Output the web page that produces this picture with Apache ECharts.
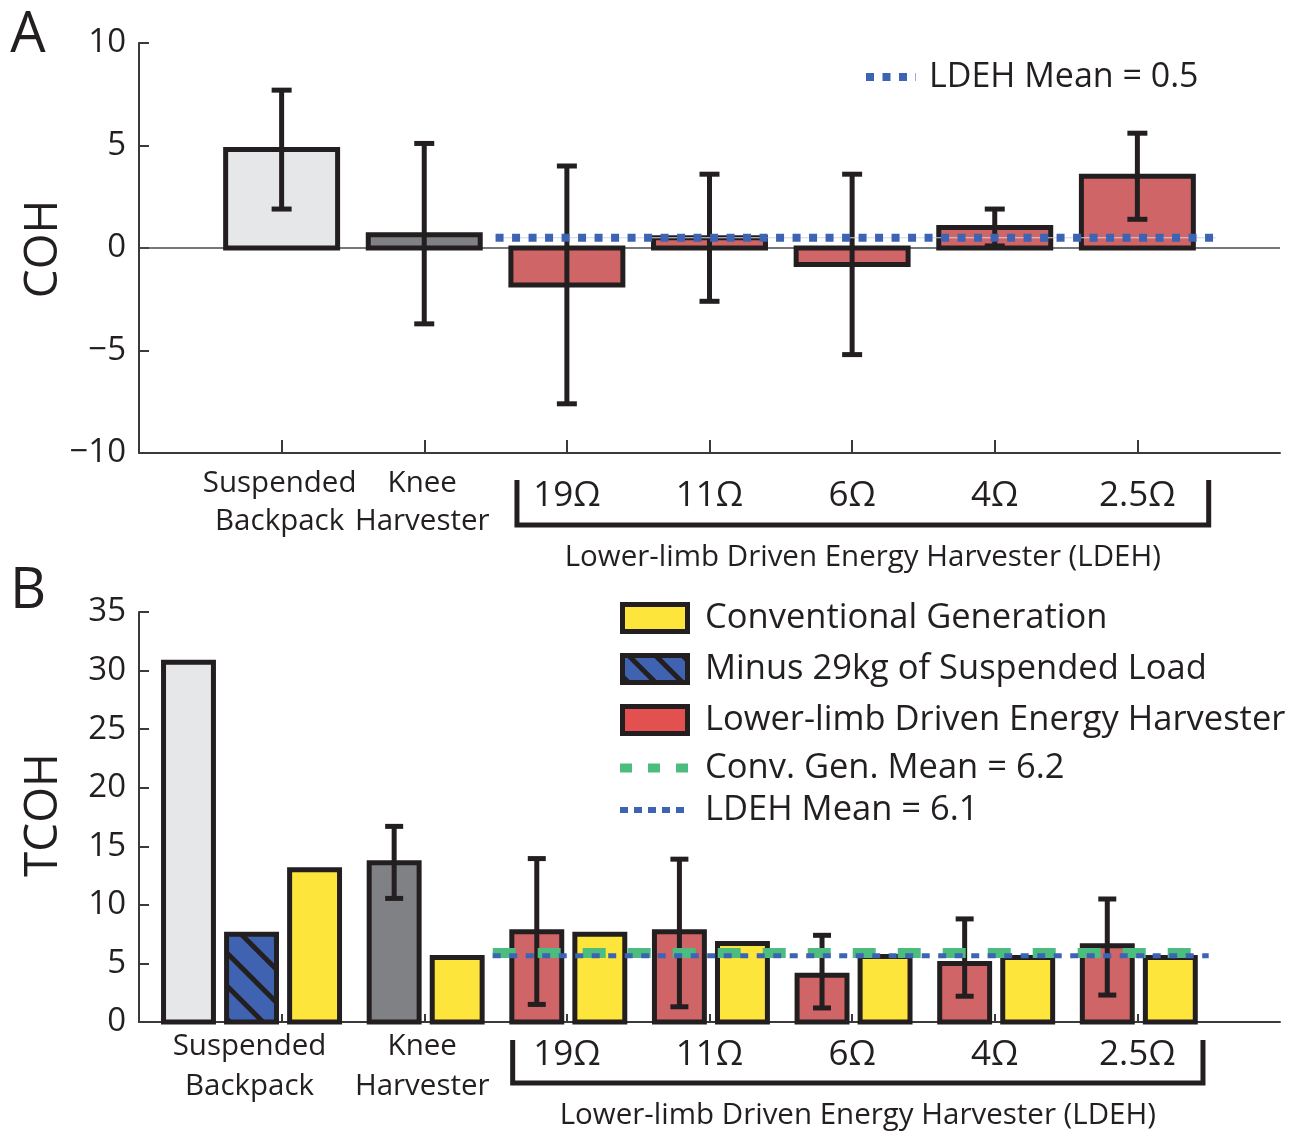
<!DOCTYPE html>
<html><head><meta charset="utf-8">
<script src="https://cdn.jsdelivr.net/npm/echarts@6/dist/echarts.min.js"></script>
<style>html,body{margin:0;padding:0;background:#fff}#c{width:1293px;height:1133px}</style>
</head><body><div id="c"></div>
<script>
// ---------------- DATA ----------------
const groupLabels = ['Suspended\nBackpack', 'Knee\nHarvester'];
const ldehLabels = ['19Ω', '11Ω', '6Ω', '4Ω', '2.5Ω'];
const ldehTitle = 'Lower-limb Driven Energy Harvester (LDEH)';

// Panel A: COH
const yTicksA = [-10, -5, 0, 5, 10];
const cohValues = [4.8, 0.65, -1.8, 0.5, -0.8, 1.0, 3.5];
const cohErrLow = [1.9, -3.7, -7.6, -2.6, -5.2, 0.1, 1.4];
const cohErrHigh = [7.7, 5.1, 4.0, 3.6, 3.6, 1.9, 5.6];
const cohLdehMean = 0.5;

// Panel B: TCOH
const yTicksB = [0, 5, 10, 15, 20, 25, 30, 35];
const tcohBaseline = [30.7, 13.6];        // Suspended Backpack, Knee Harvester
const tcohKneeErr = [10.55, 16.7];
const tcohMinus29kg = [7.5];               // Suspended Backpack only
const tcohConventional = [13.0, 5.5, 7.5, 6.7, 5.6, 5.5, 5.5];
const tcohLdeh = [7.7, 7.7, 4.0, 5.0, 6.5];
const tcohLdehErrLow = [1.5, 1.3, 1.2, 2.2, 2.3];
const tcohLdehErrHigh = [13.95, 13.9, 7.4, 8.8, 10.5];
const tcohConvGenMeanDrawn = 5.9;
const tcohLdehMeanDrawn = 5.65;

const legendA = 'LDEH Mean = 0.5';
const legendB = ['Conventional Generation', 'Minus 29kg of Suspended Load', 'Lower-limb Driven Energy Harvester', 'Conv. Gen. Mean = 6.2', 'LDEH Mean = 6.1'];

// ---------------- STYLE ----------------
const INK = '#231f20';
const C_LIGHT = '#e6e7e8', C_DARK = '#808184', C_RED = '#cf6566', C_RED_LEG = '#e35050',
      C_YEL = '#fde53b', C_BLUE = '#3f63b0', C_GREEN = '#4dbd7f', C_DOT = '#3d63b3';
const FONT = '"Open Sans", "Liberation Sans", sans-serif';

function hatch(s, lw) {
  const c = document.createElement('canvas'); c.width = s; c.height = s;
  const g = c.getContext('2d');
  g.fillStyle = C_BLUE; g.fillRect(0, 0, s, s);
  g.strokeStyle = INK; g.lineWidth = lw; g.beginPath();
  for (const k of [-s, 0, s]) { g.moveTo(-s, -s + k); g.lineTo(2 * s, 2 * s + k); }
  g.stroke();
  return { image: c, repeat: 'repeat' };
}
const hatchBar = hatch(33, 5);
const hatchLeg = hatch(27, 5);

// layout (in category units)
const A_BAR_W = 0.785;
const B_BAR_W = 0.35;
const B_PITCH = 0.442;
const B_SHIFT = 0.01;

function barRender(w, fill, lw) {
  return function (params, api) {
    const x = api.value(0), y = api.value(1);
    const p1 = api.coord([x - w / 2, y]);
    const p2 = api.coord([x + w / 2, 0]);
    return { type: 'rect',
      shape: { x: p1[0], y: Math.min(p1[1], p2[1]), width: p2[0] - p1[0], height: Math.abs(p2[1] - p1[1]) },
      style: { fill: typeof fill === 'function' ? fill(params.dataIndex) : fill, stroke: INK, lineWidth: lw } };
  };
}
function errRender(cap, lw) {
  return function (params, api) {
    const x = api.value(0);
    const lo = api.coord([x, api.value(1)]), hi = api.coord([x, api.value(2)]);
    const st = { stroke: INK, lineWidth: lw };
    return { type: 'group', children: [
      { type: 'line', shape: { x1: lo[0], y1: lo[1], x2: hi[0], y2: hi[1] }, style: st },
      { type: 'line', shape: { x1: lo[0] - cap / 2, y1: lo[1], x2: lo[0] + cap / 2, y2: lo[1] }, style: st },
      { type: 'line', shape: { x1: hi[0] - cap / 2, y1: hi[1], x2: hi[0] + cap / 2, y2: hi[1] }, style: st }
    ] };
  };
}

// Panel A data
const aColors = [C_LIGHT, C_DARK, C_RED, C_RED, C_RED, C_RED, C_RED];
const aBars = cohValues.map((v, i) => [i + 1, v]);
const aErr = cohValues.map((v, i) => [i + 1, cohErrLow[i], cohErrHigh[i]]);

// Panel B data
const bBaseBars = [[1 - 1.5 * B_PITCH + B_SHIFT, tcohBaseline[0]], [2 - 0.5 * B_PITCH + B_SHIFT, tcohBaseline[1]]];
const bMinusBars = [[1 - 0.5 * B_PITCH + B_SHIFT, tcohMinus29kg[0]]];
const bConvBars = tcohConventional.map((v, i) => [i + 1 + 0.5 * B_PITCH + B_SHIFT, v]);
const bLdehBars = tcohLdeh.map((v, i) => [i + 3 - 0.5 * B_PITCH + B_SHIFT, v]);
const bErr = [[2 - 0.5 * B_PITCH + B_SHIFT, tcohKneeErr[0], tcohKneeErr[1]]]
  .concat(tcohLdeh.map((v, i) => [i + 3 - 0.5 * B_PITCH + B_SHIFT, tcohLdehErrLow[i], tcohLdehErrHigh[i]]));

const axisLineStyle = { color: '#3a3a3a', width: 2 };

function yAxis(gi, min, max, interval) {
  return { type: 'value', gridIndex: gi, min, max, interval,
    axisLine: { show: true, lineStyle: axisLineStyle },
    axisTick: { show: true, inside: true, length: 10, lineStyle: axisLineStyle },
    splitLine: { show: false },
    axisLabel: { fontSize: 33, fontFamily: FONT, color: INK, margin: 13,
      formatter: v => String(v).replace('-', '\u2212') } };
}
function xAxis(gi, tickLen) {
  return { type: 'value', gridIndex: gi, min: 0, max: 8, interval: 1,
    axisLine: { show: true, onZero: false, lineStyle: axisLineStyle },
    axisTick: { show: true, inside: true, length: tickLen, customValues: [1, 2, 3, 4, 5, 6, 7], lineStyle: axisLineStyle },
    axisLabel: { show: false }, splitLine: { show: false } };
}

const chart = echarts.init(document.getElementById('c'), null, { renderer: 'canvas' });
const option = {
  animation: false,
  backgroundColor: '#fff',
  grid: [
    { left: 139, top: 43, width: 1141, height: 410 },
    { left: 139, top: 612, width: 1141, height: 410 }
  ],
  xAxis: [xAxis(0, 13), xAxis(1, 8)],
  yAxis: [yAxis(0, yTicksA[0], yTicksA[yTicksA.length - 1], 5), yAxis(1, yTicksB[0], yTicksB[yTicksB.length - 1], 5)],
  series: [
    // zero line panel A
    { type: 'line', xAxisIndex: 0, yAxisIndex: 0, data: [[0, 0], [8, 0]], symbol: 'none', silent: true,
      lineStyle: { color: '#4a4a4a', width: 1.5 }, z: 1 },
    { type: 'custom', xAxisIndex: 0, yAxisIndex: 0, data: aBars, renderItem: barRender(A_BAR_W, i => aColors[i], 5), encode: { x: 0, y: 1 }, z: 2 },
    { type: 'custom', xAxisIndex: 0, yAxisIndex: 0, data: aErr, renderItem: errRender(20, 5), encode: { x: 0, y: [1, 2] }, z: 3 },
    { type: 'line', xAxisIndex: 0, yAxisIndex: 0, data: [[2.5, cohLdehMean], [7.55, cohLdehMean]], symbol: 'none', silent: true,
      lineStyle: { color: '#cdd5e6', width: 1 }, z: 4 },
    { type: 'line', xAxisIndex: 0, yAxisIndex: 0, data: [[2.5, cohLdehMean], [7.55, cohLdehMean]], symbol: 'none', silent: true,
      lineStyle: { color: C_DOT, width: 8, type: [8, 8.5], cap: 'butt' }, z: 5 },

    // panel B
    { type: 'custom', xAxisIndex: 1, yAxisIndex: 1, data: bBaseBars, renderItem: barRender(B_BAR_W, i => [C_LIGHT, C_DARK][i], 5), encode: { x: 0, y: 1 }, z: 2 },
    { type: 'custom', xAxisIndex: 1, yAxisIndex: 1, data: bMinusBars, renderItem: barRender(B_BAR_W, hatchBar, 5), encode: { x: 0, y: 1 }, z: 2 },
    { type: 'custom', xAxisIndex: 1, yAxisIndex: 1, data: bConvBars, renderItem: barRender(B_BAR_W, C_YEL, 5), encode: { x: 0, y: 1 }, z: 2 },
    { type: 'custom', xAxisIndex: 1, yAxisIndex: 1, data: bLdehBars, renderItem: barRender(B_BAR_W, C_RED, 5), encode: { x: 0, y: 1 }, z: 2 },
    { type: 'custom', xAxisIndex: 1, yAxisIndex: 1, data: bErr, renderItem: errRender(18, 5), encode: { x: 0, y: [1, 2] }, z: 3 },
    { type: 'line', xAxisIndex: 1, yAxisIndex: 1, data: [[2.48, tcohConvGenMeanDrawn], [7.5, tcohConvGenMeanDrawn]], symbol: 'none', silent: true,
      lineStyle: { color: C_GREEN, width: 10, type: [23, 22], cap: 'butt' }, z: 4 },
    { type: 'line', xAxisIndex: 1, yAxisIndex: 1, data: [[2.48, tcohLdehMeanDrawn], [7.5, tcohLdehMeanDrawn]], symbol: 'none', silent: true,
      lineStyle: { color: C_DOT, width: 5, type: [8, 8.5], cap: 'butt' }, z: 5 }
  ]
};
chart.setOption(option);

// ---------------- ANNOTATIONS ----------------
function px(gi, x, y) { return chart.convertToPixel({ gridIndex: gi }, [x, y]); }
function txt(text, x, y, size, align, extra) {
  return Object.assign({ type: 'text', silent: true, style: { text, x, y, font: size + 'px ' + FONT, fill: INK,
    textAlign: align || 'center', textVerticalAlign: 'middle', verticalAlign: 'middle', lineHeight: extra && extra.lh } }, extra && extra.el);
}
const g = [];
// panel letters
g.push(txt('A', 28, 36, 56, 'center'));
g.push(txt('B', 28, 592, 56, 'center'));
// y titles
g.push(Object.assign(txt('COH', 0, 0, 46, 'center'), { x: 44, y: 249, rotation: Math.PI / 2 }));
g.push(Object.assign(txt('TCOH', 0, 0, 46, 'center'), { x: 44, y: 815, rotation: Math.PI / 2 }));

function xLabels(gi, offs) {
  const base = px(gi, 0, gi === 0 ? yTicksA[0] : yTicksB[0])[1];
  const grpX = gi === 0 ? [1, 2] : [1 - 0.5 * B_PITCH + B_SHIFT, 2];
  groupLabels.forEach((t, i) => {
    const p = px(gi, grpX[i], 0);
    g.push(txt(t, p[0] - 2, base + offs.grp, 29.5, 'center', { lh: offs.lh }));
  });
  ldehLabels.forEach((t, i) => {
    const p = px(gi, i + 3, 0);
    g.push(txt(t, p[0], base + offs.ohm, 35, 'center'));
  });
  const l = px(gi, offs.bl, 0)[0], r = px(gi, offs.br, 0)[0];
  g.push({ type: 'polyline', silent: true,
    shape: { points: [[l, base + offs.bt], [l, base + offs.bb], [r, base + offs.bb], [r, base + offs.bt]] },
    style: { stroke: INK, lineWidth: 5, fill: null } });
  g.push(txt(ldehTitle, (l + r) / 2, base + offs.title, 29.5, 'center'));
}
xLabels(0, { grp: 50, lh: 38, ohm: 43, bl: 2.65, br: 7.5, bt: 27, bb: 72, title: 105 });
xLabels(1, { grp: 45, lh: 40, ohm: 33, bl: 2.62, br: 7.46, bt: 18, bb: 61, title: 94 });

// legend A
g.push({ type: 'line', silent: true, shape: { x1: 866, y1: 77, x2: 916, y2: 77 }, style: { stroke: C_DOT, lineWidth: 8, lineDash: [8, 8.5] } });
g.push(txt(legendA, 929, 77, 34, 'left'));
// legend B
const legRows = [618, 669, 720, 768, 810];
const legFills = [C_YEL, hatchLeg, C_RED_LEG];
for (let i = 0; i < 3; i++) {
  g.push({ type: 'rect', silent: true, shape: { x: 622.5, y: legRows[i] - 13.5, width: 65, height: 27 },
    style: { fill: legFills[i], stroke: INK, lineWidth: 5 } });
}
g.push({ type: 'line', silent: true, shape: { x1: 620, y1: legRows[3], x2: 690, y2: legRows[3] }, style: { stroke: C_GREEN, lineWidth: 9, lineDash: [12, 16] } });
g.push({ type: 'line', silent: true, shape: { x1: 620, y1: legRows[4], x2: 690, y2: legRows[4] }, style: { stroke: C_DOT, lineWidth: 6, lineDash: [8, 6] } });
legendB.forEach((t, i) => g.push(txt(t, 705, legRows[i], 34.5, 'left')));

chart.setOption({ graphic: g });
</script>
</body></html>
